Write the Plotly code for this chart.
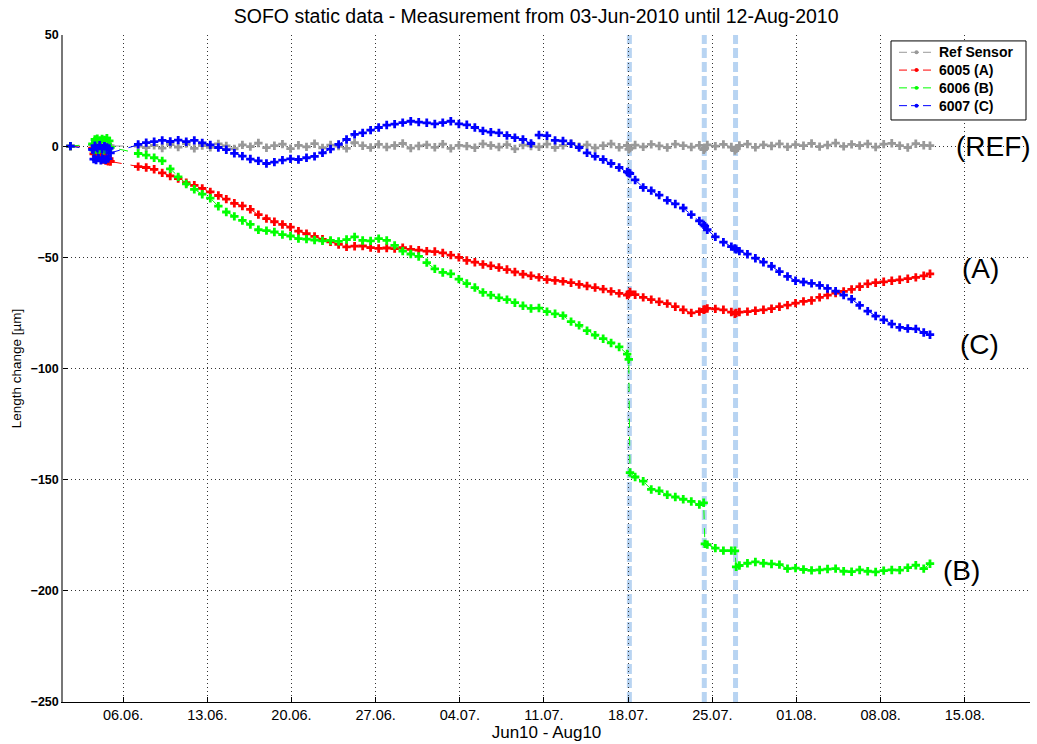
import pandas as pd
import plotly.graph_objects as go

# Sample times in days since 2010-06-01 00:00 (start point, initial burst, regular readings)
days = [
    0.62,
    2.45, 2.55, 2.65, 2.75, 2.85, 2.95, 3.05, 3.15, 3.25, 3.35, 3.45, 3.55, 3.65, 3.75, 3.85, 3.95,
    6.25, 6.92, 7.58, 8.25, 8.92, 9.58, 10.25, 10.92, 11.58, 12.25,
    12.92, 13.58, 14.25, 14.92, 15.58, 16.25, 16.92, 17.58, 18.25, 18.92,
    19.58, 20.25, 20.92, 21.58, 22.25, 22.92, 23.58, 24.25, 24.92, 25.58,
    26.25, 26.92, 27.58, 28.25, 28.92, 29.58, 30.25, 30.92, 31.58, 32.25,
    32.92, 33.58, 34.25, 34.92, 35.58, 36.25, 36.92, 37.58, 38.25, 38.92,
    39.58, 40.25, 40.92, 41.58, 42.25, 42.92, 43.58, 44.25, 44.92, 45.58,
    46.25, 46.92, 47.05, 47.15,
    47.58, 48.25, 48.92, 49.58, 50.25, 50.92, 51.58, 52.25, 52.92, 53.28, 53.38,
    53.58, 54.25, 54.92, 55.58, 55.88, 55.98,
    56.25, 56.92, 57.58, 58.25, 58.92, 59.58, 60.25, 60.92, 61.58, 62.25,
    62.92, 63.58, 64.25, 64.92, 65.58, 66.25, 66.92, 67.58, 68.25, 68.92,
    69.58, 70.25, 70.92, 71.58, 72.10,
]

# Length change [um] per sensor
ref_sensor = [
    0.0,
    0.6, -0.8, 0.9, -0.5, 0.3, -1.0, 0.7, -0.4, 1.0, -0.9, 0.5, -0.3, 0.8, -0.7, 0.2, 0.1,
    0.0, -0.6, 0.4, -0.9, 0.8, -0.4, 1.2, -1.0, 0.3, -0.5,
    1.0, 0.1, -1.2, 0.6, -0.2, 1.4, -0.7, 0.2, 0.9, -1.1,
    0.4, -0.3, 1.1, -0.8, 0.5, 0.0, -1.0, 1.6, 0.2, -0.6,
    0.8, -0.4, 0.3, 1.2, -0.9, 0.1, 0.6, -0.5, 0.9, -1.0,
    0.4, 0.0, -0.7, 1.0, 0.3, -0.4, 0.7, -1.2, 0.5, 0.1,
    -0.3, 0.9, -0.6, 0.4, 1.1, -0.2, 0.6, -0.8, 0.2, 1.0,
    -0.5, 0.3, -1.4, -0.9,
    0.5, -0.3, 0.8, 0.1, -0.6, 0.9, 0.2, -0.4, 0.4, -1.6, -1.0,
    0.6, 0.0, 0.8, -0.4, -2.0, -1.2,
    0.3, 0.9, -0.5, 0.6, 0.1, 1.0, -0.3, 0.7, 0.2, 1.2,
    -0.2, 0.5, 1.4, -0.1, 0.8, 0.3, 1.0, -0.4, 0.9, 1.3,
    0.2, -0.6, 1.1, 0.4, 0.2,
]

sensor_6005_a = [
    0.0,
    -1.0, -3.5, -2.0, -4.2, -2.6, -5.0, -3.0, -5.4, -3.8, -6.0, -4.2, -6.5, -5.0, -6.8, -5.6, -6.9,
    -9.2, -9.6, -10.4, -12.0, -13.4, -14.6, -16.4, -17.6, -19.0, -20.6,
    -22.2, -23.8, -25.7, -26.9, -28.4, -30.8, -32.6, -34.0, -35.2, -36.4,
    -38.2, -39.4, -40.6, -41.9, -43.0, -44.2, -45.3, -45.0, -44.9, -45.6,
    -46.0, -45.8, -46.1, -45.7, -46.4, -46.8, -47.2, -47.4, -48.0, -49.0,
    -50.0, -51.4, -52.2, -53.2, -53.8, -54.6, -55.5, -56.6, -57.6, -58.3,
    -59.0, -60.0, -60.4, -60.8, -61.4, -62.2, -62.9, -63.6, -64.3, -65.3,
    -66.2, -67.0, -66.6, -65.6,
    -66.8, -68.0, -69.0, -70.0, -70.8, -72.2, -73.6, -75.0, -74.4, -73.6, -73.4,
    -73.0, -73.2, -73.6, -74.6, -75.4, -75.0,
    -74.6, -74.4, -74.0, -73.6, -73.1, -72.2, -71.5, -70.6, -69.8, -69.4,
    -68.0, -67.0, -66.1, -65.3, -64.4, -63.2, -61.9, -61.4, -61.0, -60.5,
    -60.1, -59.6, -59.0, -58.3, -57.4,
]

sensor_6006_b = [
    0.0,
    1.0, -1.8, 3.0, -1.5, 3.4, -2.0, 2.6, -1.2, 3.2, -1.9, 2.8, -1.4, 3.6, -1.7, 2.4, -0.5,
    -3.3, -4.0, -5.2, -6.6, -10.2, -13.8, -17.0, -19.4, -21.6, -23.4,
    -27.0, -29.6, -31.6, -33.4, -35.2, -37.6, -38.0, -38.6, -39.8, -40.4,
    -41.6, -41.8, -42.2, -42.6, -42.4, -42.8, -42.0, -40.8, -42.4, -42.6,
    -41.6, -42.4, -44.6, -47.2, -48.5, -49.6, -52.4, -55.2, -56.8, -57.4,
    -59.8, -61.8, -63.6, -65.8, -67.0, -68.2, -69.0, -70.4, -71.8, -73.0,
    -72.8, -74.4, -75.4, -76.2, -78.9, -80.6, -83.0, -85.0, -86.6, -88.5,
    -90.3, -93.5, -95.9, -146.8,
    -148.8, -150.7, -154.4, -155.0, -156.8, -157.8, -158.8, -159.8, -161.2, -160.4, -178.9,
    -179.2, -180.8, -181.9, -181.9, -182.0, -189.2,
    -188.6, -187.6, -187.0, -187.6, -187.9, -188.2, -190.0, -189.8, -190.4, -190.8,
    -190.6, -190.2, -190.0, -191.2, -191.4, -190.6, -191.2, -191.5, -190.9, -190.6,
    -190.7, -189.6, -188.5, -190.0, -187.8,
]

sensor_6007_c = [
    0.0,
    -1.5, -5.8, 0.2, -6.2, -0.8, -5.4, 0.4, -6.4, -1.2, -5.9, 0.0, -6.1, -0.6, -5.6, -1.0, -3.0,
    0.8, 1.6, 2.0, 2.6, 2.1, 2.7, 2.0, 2.6, 1.5, 0.6,
    -0.6, -1.6, -3.2, -4.5, -5.8, -6.6, -7.8, -7.2, -6.3, -5.7,
    -6.0, -5.2, -4.6, -3.0, -1.3, 0.8, 3.0, 5.3, 6.0, 7.2,
    8.4, 9.5, 9.9, 10.6, 11.2, 10.8, 10.5, 10.0, 10.6, 11.2,
    10.0, 9.6, 8.4, 6.9, 6.3, 6.0, 4.8, 3.8, 3.0, 1.2,
    5.0, 4.7, 2.6, 2.4, 1.1, -0.6, -3.0, -4.6, -6.0, -7.8,
    -9.6, -11.6, -12.0, -12.3,
    -15.2, -18.6, -20.0, -22.0, -24.4, -26.0, -27.8, -30.8, -33.6, -35.4, -36.0,
    -37.6, -40.8, -43.2, -45.2, -46.0, -46.4,
    -47.2, -48.6, -50.4, -52.2, -54.0, -56.4, -58.6, -60.5, -61.1, -61.7,
    -62.6, -64.0, -65.2, -67.0, -68.8, -71.6, -74.2, -76.4, -78.1, -80.0,
    -81.5, -82.0, -82.2, -83.8, -84.8,
]

series_names = ["Ref Sensor", "6005 (A)", "6006 (B)", "6007 (C)"]
series_values = [ref_sensor, sensor_6005_a, sensor_6006_b, sensor_6007_c]
series_colors = ["#999999", "#ff0000", "#00ff00", "#0000ff"]

# Intervention times (days since 2010-06-01) marked by vertical dashed lines
event_days = [47.10, 53.33, 55.93]

start = pd.Timestamp("2010-06-01")
times = start + pd.to_timedelta(days, unit="D")
event_times = start + pd.to_timedelta(event_days, unit="D")

FONT = "Liberation Sans, Arial, sans-serif"

# plot area in pixels (used to place the key box in paper coordinates)
PL, PR, PT, PB = 63, 1030, 35, 710


def px(x):
    return (x - PL) / (PR - PL)


def py(y):
    return 1 - (y - PT) / (PB - PT)


fig = go.Figure()
for name, vals, col in zip(series_names, series_values, series_colors):
    fig.add_trace(go.Scatter(
        x=times, y=vals, name=name, mode="lines+markers",
        line=dict(color=col, width=1, dash="dash"),
        marker=dict(color=col, size=7, symbol="cross", line=dict(width=0)),
        showlegend=False,
    ))

for t in event_times:
    fig.add_shape(type="line", xref="x", yref="paper", x0=t, x1=t, y0=0, y1=1,
                  line=dict(color="#b8d4f2", width=5, dash="10px,4px"), layer="between")

labels = [("(REF)", "2010-08-17 10:00", 0), ("(A)", "2010-08-16 08:00", -55),
          ("(C)", "2010-08-16 06:00", -89), ("(B)", "2010-08-14 18:00", -191)]
for txt, xt, yt in labels:
    fig.add_annotation(x=xt, y=yt, text=txt, showarrow=False,
                       font=dict(family=FONT, size=28, color="black"))

# key box in the upper right corner
fig.add_shape(type="rect", xref="paper", yref="paper",
              x0=px(891), x1=px(1026), y0=py(121), y1=py(41),
              line=dict(color="black", width=1), fillcolor="white", layer="above")
row_y = [52.5, 70.5, 88.5, 106.5]
for name, col, ry in zip(series_names, series_colors, row_y):
    fig.add_shape(type="line", xref="paper", yref="paper",
                  x0=px(899), x1=px(934), y0=py(ry), y1=py(ry),
                  line=dict(color=col, width=1, dash="8px,4px"), layer="above")
    fig.add_shape(type="circle", xref="paper", yref="paper",
                  x0=px(914.5), x1=px(918.5), y0=py(ry + 2), y1=py(ry - 2),
                  line=dict(color=col, width=0), fillcolor=col, layer="above")
    fig.add_annotation(xref="paper", yref="paper", x=px(937), y=py(ry),
                       xanchor="left", yanchor="middle", text=name, showarrow=False,
                       font=dict(family=FONT, size=14, color="black", weight="bold"))

fig.update_layout(
    width=1037, height=744,
    margin=dict(l=PL, r=1037 - PR, t=PT, b=744 - PB),
    paper_bgcolor="white", plot_bgcolor="white",
    font=dict(family=FONT, color="black"),
    title=dict(text="SOFO static data - Measurement from 03-Jun-2010 until 12-Aug-2010",
               x=0.517, xref="container", xanchor="center",
               y=1 - 16 / 744, yref="container", yanchor="middle",
               font=dict(size=19.5, family=FONT, color="black")),
    showlegend=False,
)

fig.update_xaxes(
    type="date", range=["2010-06-01", "2010-08-20 10:00"],
    tick0="2010-06-06", dtick=7 * 86400000, tickformat="%d.%m.",
    ticks="inside", ticklen=5, tickcolor="black",
    showline=True, linecolor="black", linewidth=1, mirror=False,
    showgrid=True, gridcolor="#333333", griddash="1px,3px", gridwidth=1,
    zeroline=False,
    tickfont=dict(family=FONT, size=14.5, color="black"),
    title=dict(text="Jun10 - Aug10", font=dict(family=FONT, size=17, color="black"), standoff=2),
)
fig.update_yaxes(
    range=[-250, 50], dtick=50, tick0=0,
    ticks="inside", ticklen=5, tickcolor="black",
    showline=True, linecolor="#777777", linewidth=1.5, mirror=False,
    showgrid=True, gridcolor="#333333", griddash="1px,3px", gridwidth=1,
    zeroline=False,
    tickfont=dict(family=FONT, size=12.5, color="black", weight="bold"),
    title=dict(text="Length change [µm]", font=dict(family=FONT, size=13.5, color="black"), standoff=6),
)

fig.write_html("out.html")
